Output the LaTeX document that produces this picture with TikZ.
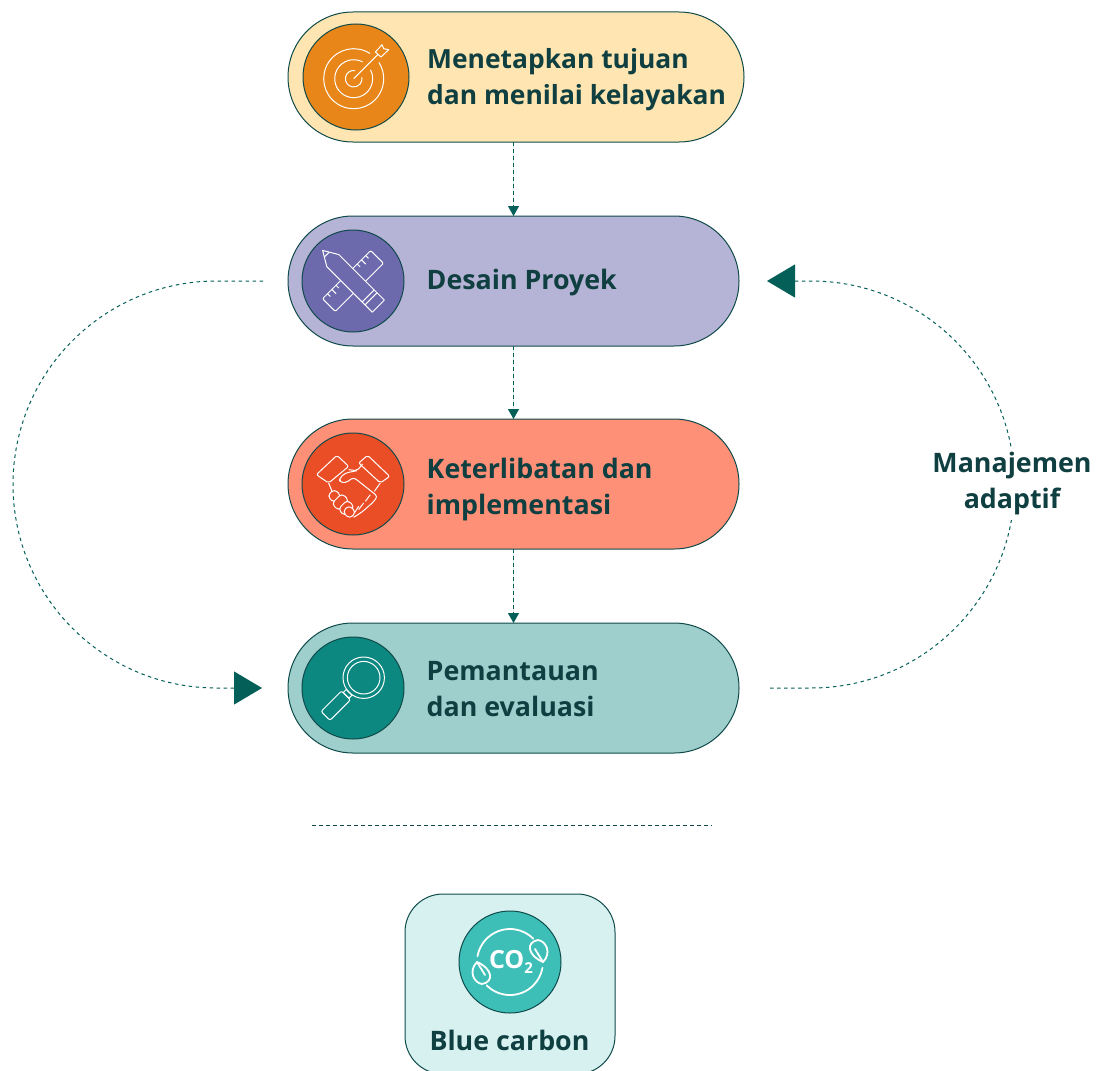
\documentclass[tikz,border=0pt]{standalone}
\usepackage{fontspec}
\setmainfont{Open Sans}
\usetikzlibrary{arrows.meta,positioning}
\definecolor{linecol}{HTML}{0F4A4A}
\definecolor{textcol}{HTML}{0F3F40}
\definecolor{arrowcol}{HTML}{045F58}
\definecolor{goalbg}{HTML}{FEE5B1}
\definecolor{goalfg}{HTML}{E8861A}
\definecolor{designbg}{HTML}{B6B4D6}
\definecolor{designfg}{HTML}{6C69AC}
\definecolor{engagebg}{HTML}{FF9078}
\definecolor{engagefg}{HTML}{E94E27}
\definecolor{monitorbg}{HTML}{9FCFCC}
\definecolor{monitorfg}{HTML}{0C8880}
\definecolor{carbonbg}{HTML}{D6F1F0}
\definecolor{carbonfg}{HTML}{3DBFB8}

\begin{document}
\begin{tikzpicture}[x=1pt,y=1pt]
\tikzstyle{pill}=[rectangle, rounded corners=65pt, minimum height=130pt, minimum width=451pt, draw=linecol, line width=1pt, outer sep=0pt, inner sep=0pt]
\tikzstyle{badge}=[circle, minimum size=102pt, draw=linecol, line width=1pt, outer sep=0pt, inner sep=0pt]
\tikzstyle{caption}=[font=\fontsize{26.8}{36}\selectfont\bfseries, text=textcol, align=left, inner sep=0pt]
\tikzstyle{connect}=[-{Triangle[length=10pt,width=11pt]}, draw=arrowcol, fill=arrowcol, line width=1pt, dash pattern=on 3.5pt off 3.5pt]
\tikzstyle{loopline}=[-{Triangle[length=28pt,width=33pt,sep=5pt]}, draw=arrowcol, line width=1pt, dash pattern=on 3.5pt off 3.5pt]
\tikzstyle{icon}=[draw=white, line width=1pt, line join=round]
  \useasboundingbox (0,-1070) rectangle (1099,0);
  \node[pill, fill=goalbg, minimum width=456pt] (goal) at (516,-77) {};
  \node[pill, fill=designbg, below=74pt of goal, xshift=-2.5pt] (design) {};
  \node[pill, fill=engagebg, below=73pt of design] (engage) {};
  \node[pill, fill=monitorbg, below=74pt of engage] (monitor) {};
  \node[badge, fill=goalfg, minimum size=106pt, right=15pt of goal.west] (goalicon) {};
  \node[badge, fill=designfg, right=14pt of design.west] (designicon) {};
  \node[badge, fill=engagefg, right=14pt of engage.west] (engageicon) {};
  \node[badge, fill=monitorfg, right=14pt of monitor.west] (monitoricon) {};
  \node[caption, font=\fontsize{26.4}{36}\selectfont\bfseries, right=18pt of goalicon, yshift=-3pt] (goaltext) {Menetapkan tujuan\\dan menilai kelayakan};
  \node[caption, right=22.5pt of designicon, yshift=-2pt] (designtext) {Desain Proyek};
  \node[caption, right=22.5pt of engageicon, yshift=-6pt] (engagetext) {Keterlibatan dan\\implementasi};
  \node[caption, right=22.5pt of monitoricon, yshift=-1pt] (monitortext) {Pemantauan\\dan evaluasi};
  \draw[connect] (design.north |- goal.south) -- (design.north);
  \path (design) edge [connect] (engage)
        (engage) edge [connect] (monitor);
  \draw[loopline] ([xshift=-25pt]design.west) -- ++(-46.5,0) arc[start angle=90, end angle=270, radius=203.5] -- ([xshift=-21pt]monitor.west);
  \draw[loopline] ([xshift=31pt]monitor.east) -- ++(41,0) arc[start angle=-90, end angle=90, radius=203.5] -- ([xshift=23pt]design.east);
  \node[caption, fill=white, align=center, inner sep=5pt] (adaptive) at (1012,-484) {Manajemen\\adaptif};
  \coordinate (ruleleft) at (312,-825.5);
  \coordinate (ruleright) at (712,-825.5);
  \draw[draw=linecol, line width=.8pt, dash pattern=on 3.5pt off 3.5pt] (ruleleft) -- (ruleright);
  \node[rectangle, rounded corners=38pt, minimum width=210pt, minimum height=180pt, draw=linecol, line width=1pt, fill=carbonbg] (carbon) at (510,-984) {};
  \node[badge, fill=carbonfg, minimum size=102pt] (carbonicon) at (510,-962) {};
  \node[caption, align=center] (carbontext) at (509.5,-1040) {Blue carbon};
  % target
  \begin{scope}[shift={(goalicon.center)}, shift={(-2.3,-1.7)}, icon]
    \draw (0,0) ++(57:30) arc[start angle=57, end angle=393, radius=30];
    \draw (0,0) ++(62:19) arc[start angle=62, end angle=388, radius=19];
    \draw (0,0) ++(80:8.3) arc[start angle=80, end angle=370, radius=8.3];
    \draw (0,0) -- (24,24);
    \draw (21.7,26.7) -- (28.3,34) -- (30,30) -- (35,29) -- (27.3,21.7) -- cycle;
  \end{scope}
  % ruler and pencil
  \begin{scope}[shift={(designicon.center)}, icon]
    \begin{scope}[rotate=45]
      \draw[rounded corners=1pt] (-34,-9) rectangle (34,9);
      \foreach \tx/\tl in {-27/4,-21/6,-15/4,15/4,21/6,27/4} \draw (\tx,9) -- (\tx,9-\tl);
    \end{scope}
    \begin{scope}[shift={(-2.5,2.7)}, rotate=-45]
      \draw[fill=designfg] (-39.4,0) -- (-25,8.5) -- (39.4,8.5) -- (39.4,-8.5) -- (-25,-8.5) -- cycle;
      \draw (-33.5,3.5) -- (-33.5,-3.5);
      \draw (25,8.5) -- (25,-8.5);
      \draw (29,8.5) -- (29,-8.5);
    \end{scope}
  \end{scope}
  % handshake
  \begin{scope}[shift={(engageicon.center)}, x=.3333pt, y=-.3333pt, icon]
    \draw[rounded corners=2pt] (-48,-86) -- (-13,-53) -- (-73,-3) -- (-110,-28) -- cycle;
    \draw[rounded corners=2pt] (44,-86) -- (110,-23) -- (82,-3) -- (17,-63) -- cycle;
    \draw[rounded corners=2pt] (-13,-43) -- (12,-40) -- (29,-60);
    \draw[rounded corners=3pt] (12,-40) -- (-23,-33) -- (-40,-18) -- (-40,-6) -- (-23,-3) -- (2,-20) -- (74,37) -- (60,55) -- (27,84) -- (2,100);
    \draw (82,-3) -- (64,22);
    \draw (-73,-3) -- (-63,22);
    \foreach \fx/\fy/\fl in {-56/36/15,-38/54/22,-20/72/20,-11/84/14}
      \draw[fill=engagefg, rounded corners=4pt, shift={(\fx,\fy)}, rotate=45] (-\fl,-15) rectangle (\fl,15);
    \draw (37,52) -- (52,32);
    \draw (17,77) -- (32,57);
    \draw (4,87) -- (17,67);
  \end{scope}
  % magnifier
  \begin{scope}[shift={(monitoricon.center)}, shift={(10.7,10.3)}, rotate=45, icon]
    \draw (0,0) circle (20.7);
    \draw (0,0) circle (16.3);
    \draw (-25,-4) rectangle (-20.6,4);
    \draw[rounded corners=2pt] (-54,-6.3) rectangle (-25,6.3);
  \end{scope}
  % carbon cycle
  \begin{scope}[shift={(carbonicon.center)}, draw=white, line width=1.8pt, line cap=round]
    \draw (170:33) arc[start angle=170, end angle=45, radius=33];
    \draw (225:33) arc[start angle=225, end angle=350, radius=33];
    \foreach \lr in {0,180} {
      \begin{scope}[rotate=\lr]
        \draw (33,0) .. controls (17,7) and (16,20) .. (28,22) .. controls (36,21) and (42,9) .. (33,0);
        \draw (33,0) -- (25,13);
      \end{scope}
    }
    \node[inner sep=0pt, text=white, font=\fontsize{25}{25}\selectfont\bfseries] (co) at (1,0) {CO\raisebox{-5pt}{\fontsize{15}{15}\selectfont 2}};
  \end{scope}
\end{tikzpicture}
\end{document}
